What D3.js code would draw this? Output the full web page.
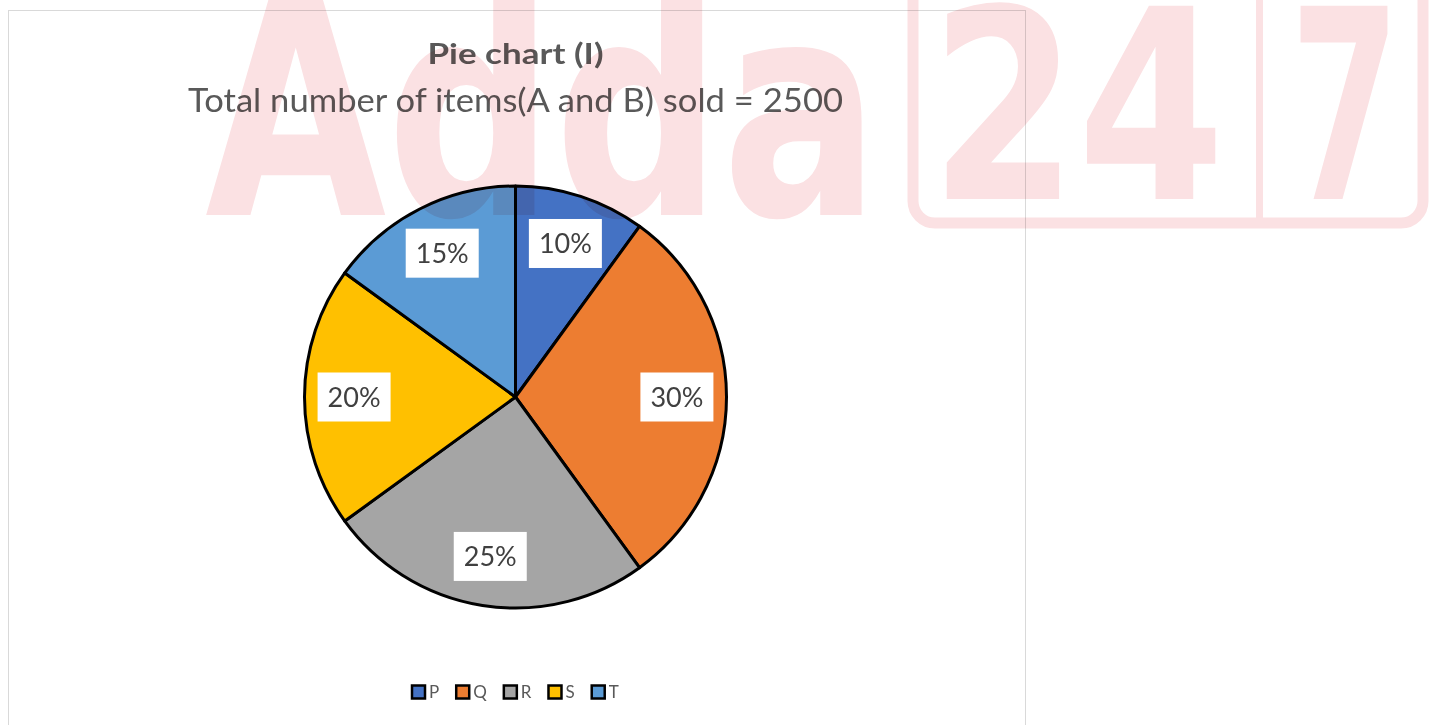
<!DOCTYPE html>
<html>
<head>
<meta charset="utf-8">
<script src="https://cdn.jsdelivr.net/npm/d3@7"></script>
<style>
  html, body { margin: 0; padding: 0; background: #fff; }
  svg { display: block; }
</style>
</head>
<body>
<div id="chart"></div>
<script>
// data
var categories = ['P', 'Q', 'R', 'S', 'T'];
var shares = [10, 30, 25, 20, 15];
var sliceColors = ['#4472C4', '#ED7D31', '#A5A5A5', '#FFC000', '#5B9BD5'];
var chartTitle = 'Pie chart (I)';
var chartSubtitle = 'Total number of items(A and B) sold = 2500';

var W = 1429, H = 725;
var cx = 515.5, cy = 397, radius = 211;
var font = 'Lato, "Open Sans", sans-serif';

var svg = d3.select('#chart').append('svg')
    .attr('width', W)
    .attr('height', H);

svg.append('rect').attr('width', W).attr('height', H).attr('fill', '#fff');

// chart area frame
svg.append('rect')
    .attr('x', 8.5).attr('y', 10.5)
    .attr('width', 1017).attr('height', 740)
    .attr('fill', 'none')
    .attr('stroke', '#d9d9d9')
    .attr('stroke-width', 1);

// titles
svg.append('text')
    .attr('x', cx).attr('y', 64)
    .attr('text-anchor', 'middle')
    .attr('font-family', font)
    .attr('font-weight', 'bold')
    .attr('font-size', 28)
    .attr('fill', '#595959')
    .attr('textLength', 176)
    .attr('lengthAdjust', 'spacingAndGlyphs')
    .text(chartTitle);

svg.append('text')
    .attr('x', cx).attr('y', 112)
    .attr('text-anchor', 'middle')
    .attr('font-family', font)
    .attr('font-size', 33)
    .attr('fill', '#595959')
    .attr('textLength', 655)
    .attr('lengthAdjust', 'spacingAndGlyphs')
    .text(chartSubtitle);

//
// the pie
//
var pie = d3.pie().sort(null).value(function (d) { return d.value; });
var data = categories.map(function (c, i) {
  return { label: c, value: shares[i], color: sliceColors[i] };
});
var arcs = pie(data);

var arc = d3.arc().innerRadius(0).outerRadius(radius);
var labelArc = d3.arc().innerRadius(radius * 0.765).outerRadius(radius * 0.765);

var g = svg.append('g').attr('transform', 'translate(' + cx + ',' + cy + ')');

g.selectAll('path.slice')
    .data(arcs)
    .enter()
    .append('path')
    .attr('class', 'slice')
    .attr('d', arc)
    .attr('fill', function (d) { return d.data.color; })
    .attr('stroke', '#000')
    .attr('stroke-width', 3)
    .attr('stroke-linejoin', 'round');

// data labels in white boxes
var labels = g.selectAll('g.lbl')
    .data(arcs)
    .enter()
    .append('g')
    .attr('class', 'lbl')
    .attr('transform', function (d) {
      var c = labelArc.centroid(d);
      return 'translate(' + c[0] + ',' + c[1] + ')';
    });

labels.append('rect')
    .attr('x', -36.5).attr('y', -24.5)
    .attr('width', 73).attr('height', 49)
    .attr('fill', '#fff');

labels.append('text')
    .attr('text-anchor', 'middle')
    .attr('dy', '0.36em')
    .attr('font-family', font)
    .attr('font-size', 27)
    .attr('fill', '#404040')
    .text(function (d) { return d.data.value + '%'; });

//
// legend
//
var legend = svg.append('g').attr('class', 'legend');
var lx = 412;
categories.forEach(function (c, i) {
  var item = legend.append('g').attr('transform', 'translate(' + lx + ',692)');
  item.append('rect')
      .attr('x', 0).attr('y', -6.5)
      .attr('width', 13).attr('height', 13)
      .attr('fill', sliceColors[i])
      .attr('stroke', '#000')
      .attr('stroke-width', 2.5);
  var t = item.append('text')
      .attr('x', 17).attr('dy', '0.36em')
      .attr('font-family', font)
      .attr('font-size', 17)
      .attr('fill', '#595959')
      .text(c);
  lx += 17 + t.node().getComputedTextLength() + 17;
});

//
// watermark, multiplied over everything
//
var wm = svg.append('g')
    .style('mix-blend-mode', 'multiply')
    .attr('fill', '#fbe1e3');

wm.append('text')
    .attr('x', 205).attr('y', 215)
    .attr('font-family', '"DejaVu Sans", sans-serif')
    .attr('font-weight', 'bold')
    .attr('font-size', 300)
    .attr('textLength', 675)
    .attr('lengthAdjust', 'spacingAndGlyphs')
    .text('Adda');

wm.append('rect')
    .attr('x', 913).attr('y', -40)
    .attr('width', 510).attr('height', 263)
    .attr('rx', 22)
    .attr('fill', 'none')
    .attr('stroke', '#fbe1e3')
    .attr('stroke-width', 11);

wm.append('rect')
    .attr('x', 1256).attr('y', -40)
    .attr('width', 7).attr('height', 263);

wm.append('text')
    .attr('x', 930).attr('y', 199)
    .attr('font-family', '"DejaVu Sans", sans-serif')
    .attr('font-weight', 'bold')
    .attr('font-size', 265)
    .attr('textLength', 295)
    .attr('lengthAdjust', 'spacingAndGlyphs')
    .text('24');

wm.append('text')
    .attr('x', 1290).attr('y', 199)
    .attr('font-family', '"DejaVu Sans", sans-serif')
    .attr('font-weight', 'bold')
    .attr('font-size', 265)
    .attr('textLength', 110)
    .attr('lengthAdjust', 'spacingAndGlyphs')
    .text('7');
</script>
</body>
</html>
